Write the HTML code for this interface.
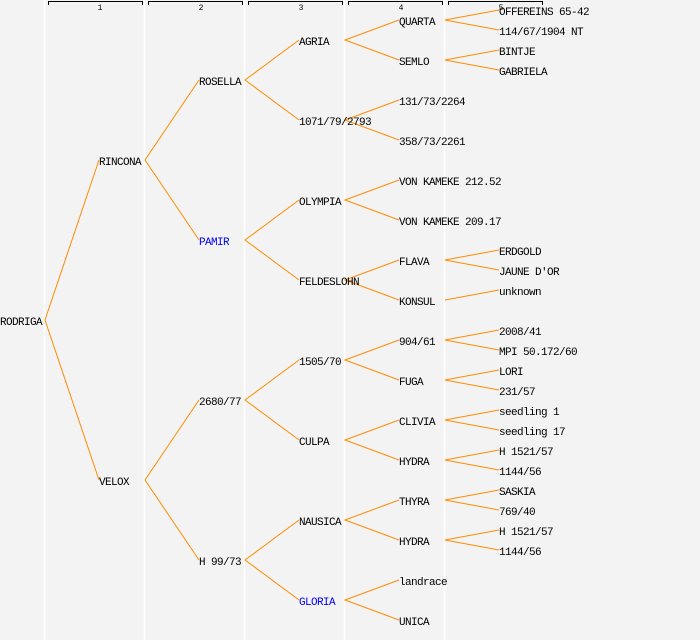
<!DOCTYPE html>
<html><head><meta charset="utf-8"><style>
html,body{margin:0;padding:0;background:#f3f3f3;}
svg{display:block;}
text{font-family:"Liberation Mono",monospace;font-size:11px;letter-spacing:-0.6px;fill:#000;}
.h{font-size:8px;letter-spacing:0;}
</style></head><body>
<svg width="700" height="640" viewBox="0 0 700 640" xmlns="http://www.w3.org/2000/svg">
<rect width="700" height="640" fill="#f3f3f3"/>
<g stroke="#fff" stroke-width="1.5">
<line x1="44.5" y1="0" x2="44.5" y2="640"/>
<line x1="144.5" y1="0" x2="144.5" y2="640"/>
<line x1="244.5" y1="0" x2="244.5" y2="640"/>
<line x1="344.5" y1="0" x2="344.5" y2="640"/>
<line x1="444.5" y1="0" x2="444.5" y2="640"/>
</g>
<g stroke="#000" stroke-width="1" fill="none">
<path d="M48.5 5V1.5H142.5V5"/>
<path d="M148.5 5V1.5H242.5V5"/>
<path d="M248.5 5V1.5H342.5V5"/>
<path d="M348.5 5V1.5H442.5V5"/>
<path d="M448.5 5V1.5H542.5V5"/>
</g>
<text class="h" x="100" y="10" text-anchor="middle">1</text>
<text class="h" x="201" y="10" text-anchor="middle">2</text>
<text class="h" x="301" y="10" text-anchor="middle">3</text>
<text class="h" x="401" y="10" text-anchor="middle">4</text>
<text class="h" x="501" y="10" text-anchor="middle">5</text>
<g stroke="#ff8c00" stroke-width="1" fill="none">
<path d="M99 160L45 320L99 480"/>
<path d="M199 80L145 160L199 240"/>
<path d="M199 400L145 480L199 560"/>
<path d="M299 40L245 80L299 120"/>
<path d="M299 200L245 240L299 280"/>
<path d="M299 360L245 400L299 440"/>
<path d="M299 520L245 560L299 600"/>
<path d="M399 20L345 40L399 60"/>
<path d="M399 100L345 120L399 140"/>
<path d="M399 180L345 200L399 220"/>
<path d="M399 260L345 280L399 300"/>
<path d="M399 340L345 360L399 380"/>
<path d="M399 420L345 440L399 460"/>
<path d="M399 500L345 520L399 540"/>
<path d="M399 580L345 600L399 620"/>
<path d="M499 10L445 20L499 30"/>
<path d="M499 50L445 60L499 70"/>
<path d="M499 250L445 260L499 270"/>
<path d="M499 290L445 300"/>
<path d="M499 330L445 340L499 350"/>
<path d="M499 370L445 380L499 390"/>
<path d="M499 410L445 420L499 430"/>
<path d="M499 450L445 460L499 470"/>
<path d="M499 490L445 500L499 510"/>
<path d="M499 530L445 540L499 550"/>
</g>
<text x="0" y="325">RODRIGA</text>
<text x="99" y="165">RINCONA</text>
<text x="99" y="485">VELOX</text>
<text x="199" y="85">ROSELLA</text>
<text x="199" y="245" style="fill:#0000ff">PAMIR</text>
<text x="199" y="405">2680/77</text>
<text x="199" y="565">H 99/73</text>
<text x="299" y="45">AGRIA</text>
<text x="299" y="125">1071/79/2793</text>
<text x="299" y="205">OLYMPIA</text>
<text x="299" y="285">FELDESLOHN</text>
<text x="299" y="365">1505/70</text>
<text x="299" y="445">CULPA</text>
<text x="299" y="525">NAUSICA</text>
<text x="299" y="605" style="fill:#0000ff">GLORIA</text>
<text x="399" y="25">QUARTA</text>
<text x="399" y="65">SEMLO</text>
<text x="399" y="105">131/73/2264</text>
<text x="399" y="145">358/73/2261</text>
<text x="399" y="185">VON KAMEKE 212.52</text>
<text x="399" y="225">VON KAMEKE 209.17</text>
<text x="399" y="265">FLAVA</text>
<text x="399" y="305">KONSUL</text>
<text x="399" y="345">904/61</text>
<text x="399" y="385">FUGA</text>
<text x="399" y="425">CLIVIA</text>
<text x="399" y="465">HYDRA</text>
<text x="399" y="505">THYRA</text>
<text x="399" y="545">HYDRA</text>
<text x="399" y="585">landrace</text>
<text x="399" y="625">UNICA</text>
<text x="499" y="15">OFFEREINS 65-42</text>
<text x="499" y="35">114/67/1904 NT</text>
<text x="499" y="55">BINTJE</text>
<text x="499" y="75">GABRIELA</text>
<text x="499" y="255">ERDGOLD</text>
<text x="499" y="275">JAUNE D'OR</text>
<text x="499" y="295">unknown</text>
<text x="499" y="335">2008/41</text>
<text x="499" y="355">MPI 50.172/60</text>
<text x="499" y="375">LORI</text>
<text x="499" y="395">231/57</text>
<text x="499" y="415">seedling 1</text>
<text x="499" y="435">seedling 17</text>
<text x="499" y="455">H 1521/57</text>
<text x="499" y="475">1144/56</text>
<text x="499" y="495">SASKIA</text>
<text x="499" y="515">769/40</text>
<text x="499" y="535">H 1521/57</text>
<text x="499" y="555">1144/56</text>
</svg>
</body></html>
